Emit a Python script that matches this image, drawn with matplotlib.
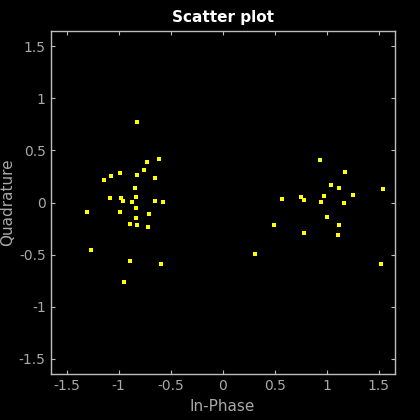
import matplotlib
matplotlib.use("Agg")
import matplotlib.pyplot as plt

in_phase = [-0.827, -0.728, -0.615, -0.757, -0.651, -1.144, -1.071, -0.988, -0.827,
            -0.846, -1.084, -0.978, -0.959, -0.831, -0.869, -0.651, -0.574, -0.834,
            -1.308, -0.985, -0.706, -0.831, -0.891, -0.821, -0.715, -1.263, -0.888,
            -0.596, -0.949,
            0.939, 1.176, 1.044, 1.115, 1.256, 1.541, 0.573, 0.753, 0.785, 0.974,
            0.945, 1.163, 1.0, 0.49, 1.115, 0.785, 1.106, 0.311, 1.522]
quadrature = [0.769, 0.391, 0.417, 0.311, 0.234, 0.212, 0.25, 0.279, 0.26,
              0.135, 0.045, 0.045, 0.016, 0.052, 0.007, 0.01, 0.004, -0.051,
              -0.096, -0.092, -0.106, -0.147, -0.208, -0.218, -0.24, -0.452, -0.561,
              -0.587, -0.76,
              0.411, 0.295, 0.167, 0.141, 0.074, 0.129, 0.033, 0.052, 0.023, 0.062,
              0.004, -0.003, -0.14, -0.218, -0.214, -0.291, -0.314, -0.493, -0.593]

ticks = [-1.5, -1, -0.5, 0, 0.5, 1, 1.5]
tick_labels = ["-1.5", "-1", "-0.5", "0", "0.5", "1", "1.5"]

fig = plt.figure(figsize=(4.2, 4.2), dpi=100, facecolor="black")
ax = fig.add_axes([50.5/420, 1 - 374.3/420, 344.2/420, 343.6/420], facecolor="black")
ax.plot(in_phase, quadrature, linestyle="none", marker="s", markersize=2.4,
        color="#ffff00", markeredgewidth=0)
ax.set_xlim(-1.655, 1.655)
ax.set_ylim(-1.65, 1.65)
ax.set_xticks(ticks)
ax.set_xticklabels(tick_labels)
ax.set_yticks(ticks)
ax.set_yticklabels(tick_labels)
gray = "#a8a8a8"
for s in ax.spines.values():
    s.set_color("#bdbdbd")
    s.set_linewidth(1.0)
ax.tick_params(direction="in", top=True, right=True, colors="#bdbdbd",
               labelcolor=gray, labelsize=10, length=3)
ax.set_xlabel("In-Phase", color=gray, fontsize=11, labelpad=4)
ax.set_ylabel("Quadrature", color=gray, fontsize=11, labelpad=2.5)
ax.set_title("Scatter plot", color="white", fontsize=11, fontweight="bold", pad=6)
fig.savefig("out.png", dpi=100, facecolor="black")
